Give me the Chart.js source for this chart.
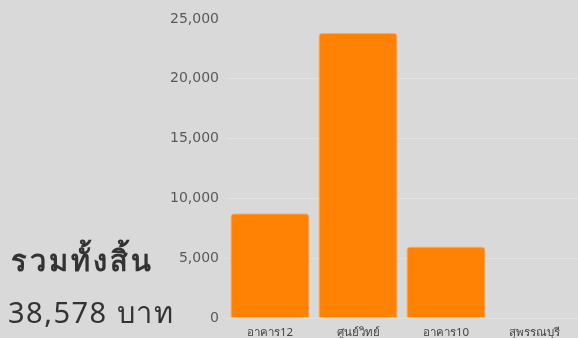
<!DOCTYPE html>
<html>
<head>
<meta charset="utf-8">
<script src="https://cdn.jsdelivr.net/npm/chart.js@4"></script>
<style>
  html, body { margin: 0; padding: 0; background: #d9d9d9; }
  #wrap { position: relative; width: 578px; height: 338px; overflow: hidden; }
  #total { position: absolute; left: 0; top: 0; color: #333; font-family: "Noto Sans", sans-serif; }
  #total div { position: absolute; white-space: nowrap; }
  #total .t1 { left: 11px; top: 238px; font-size: 29px; font-weight: 600; letter-spacing: 3px; }
  #total .t2 { left: 8px; top: 290px; font-size: 29px; letter-spacing: 1.5px; }
</style>
</head>
<body>
<div id="wrap">
  <canvas id="chartOfCost" width="578" height="338"></canvas>
  <div id="total">
    <div class="t1">รวมทั้งสิ้น</div>
    <div class="t2">38,578 บาท</div>
  </div>
</div>
<script>
const places = ["อาคาร12", "ศูนย์วิทย์", "อาคาร10", "สุพรรณบุรี"]
const costs = [8750, 23850, 5978, 0]

const ctx = document.getElementById("chartOfCost")

const data = {
    labels: places,
    datasets: [{
        label: 'ค่าใช้จ่าย',
        data: costs,
        backgroundColor: '#ff8205',
        borderColor: '#ffb070',
        borderWidth: 1,
        borderRadius: 4,
        borderSkipped: 'bottom',
        categoryPercentage: 0.9,
        barPercentage: 1.0
    }]
}

const config = {
    type: 'bar',
    data: data,
    options: {
        responsive: false,
        animation: false,
        layout: { padding: { top: 19, right: 0, left: 0, bottom: 0 } },
        plugins: { legend: { display: false }, tooltip: { enabled: false } },
        scales: {
            x: {
                afterFit: (scale) => { scale.height = 20 },
                grid: { display: false },
                border: { display: false },
                ticks: { color: '#444', font: { family: 'Noto Sans', size: 11.5 }, padding: 0, maxRotation: 0 }
            },
            y: {
                min: 0,
                max: 25000,
                afterFit: (scale) => { scale.width = 226 },
                grid: {
                    drawTicks: false,
                    color: (c) => c.tick && c.tick.value === 25000 ? 'rgba(0,0,0,0)' : '#e2e2e2'
                },
                border: { display: false },
                ticks: {
                    stepSize: 5000,
                    padding: 7,
                    color: '#5a5a5a',
                    font: { family: 'DejaVu Sans', size: 14 },
                    callback: (v) => v.toLocaleString('en-US')
                }
            }
        }
    }
}

new Chart(ctx, config)
</script>
</body>
</html>
